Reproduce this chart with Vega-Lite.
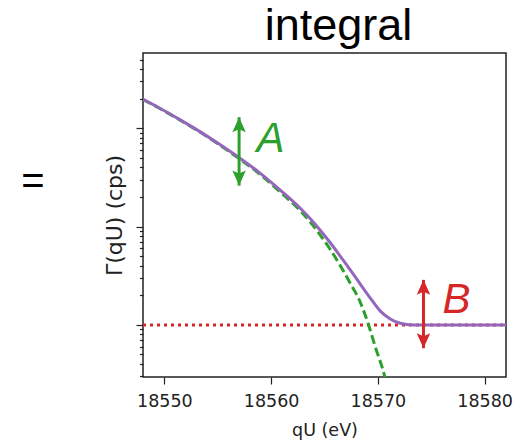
{
  "$schema": "https://vega.github.io/schema/vega-lite/v6.json",
  "autosize": {"type": "none"},
  "width": 363,
  "height": 324,
  "padding": {"left": 143, "top": 53, "right": 13, "bottom": 68},
  "background": "white",
  "config": {
    "view": {"stroke": "#222", "strokeWidth": 1.5},
    "axis": {"domain": false, "grid": false, "tickColor": "#222", "tickWidth": 1.2, "labelFont": "DejaVu Sans", "titleFont": "DejaVu Sans", "titleFontWeight": "normal", "labelColor": "#222", "titleColor": "#222"}
  },
  "title": {"text": "integral", "font": "Liberation Sans", "fontSize": 45, "fontWeight": "normal", "color": "black", "anchor": "middle", "dx": 14, "dy": 46, "offset": 5, "baseline": "bottom"},
  "datasets": {
    "total": [
      {"qU": 18548.0, "v": 196.8},
      {"qU": 18549.62, "v": 159.0},
      {"qU": 18551.49, "v": 121.8},
      {"qU": 18553.37, "v": 91.9},
      {"qU": 18555.24, "v": 67.8},
      {"qU": 18557.02, "v": 50.0},
      {"qU": 18558.99, "v": 34.8},
      {"qU": 18560.86, "v": 23.46},
      {"qU": 18562.73, "v": 15.35},
      {"qU": 18563.67, "v": 12.0},
      {"qU": 18564.6, "v": 9.17},
      {"qU": 18565.54, "v": 6.84},
      {"qU": 18566.47, "v": 5.01},
      {"qU": 18567.41, "v": 3.63},
      {"qU": 18568.35, "v": 2.6},
      {"qU": 18569.29, "v": 1.874},
      {"qU": 18570.23, "v": 1.38},
      {"qU": 18571.16, "v": 1.15},
      {"qU": 18572.1, "v": 1.04},
      {"qU": 18573.32, "v": 1.0},
      {"qU": 18582.0, "v": 1.0}
    ],
    "signal": [
      {"qU": 18548.0, "v": 195.8},
      {"qU": 18549.62, "v": 158.0},
      {"qU": 18551.49, "v": 120.8},
      {"qU": 18553.37, "v": 90.9},
      {"qU": 18555.24, "v": 66.8},
      {"qU": 18557.02, "v": 49.0},
      {"qU": 18558.99, "v": 33.8},
      {"qU": 18560.86, "v": 22.46},
      {"qU": 18562.73, "v": 14.5},
      {"qU": 18563.67, "v": 11.1},
      {"qU": 18564.6, "v": 8.2},
      {"qU": 18565.54, "v": 5.85},
      {"qU": 18566.47, "v": 4.02},
      {"qU": 18567.41, "v": 2.65},
      {"qU": 18568.35, "v": 1.7},
      {"qU": 18569.1, "v": 1.02},
      {"qU": 18569.75, "v": 0.6},
      {"qU": 18570.6, "v": 0.31},
      {"qU": 18571.0, "v": 0.2}
    ],
    "bg": [
      {"qU": 18548.0, "v": 1.0},
      {"qU": 18582.0, "v": 1.0}
    ],
    "arrows": [
      {"label": "A", "qU": 18557.0, "lo": 26.1, "hi": 129.7},
      {"label": "B", "qU": 18574.27, "lo": 0.579, "hi": 2.87}
    ],
    "labels": [
      {"label": "A", "qU": 18559.95, "v": 58.0},
      {"label": "B", "qU": 18577.36, "v": 1.315}
    ],
    "eq": [
      {"qU": 18537.7, "v": 28.2, "t": "="}
    ]
  },
  "layer": [
    {
      "data": {"name": "bg"},
      "mark": {"type": "line", "color": "#d62728", "strokeWidth": 3, "strokeDash": [3, 4], "clip": true},
      "encoding": {
        "x": {"field": "qU", "type": "quantitative", "scale": {"domain": [18548, 18582], "nice": false, "zero": false},
          "axis": {"values": [18550, 18560, 18570, 18580], "format": "d", "tickSize": 7, "labelFontSize": 17.5, "labelPadding": 8, "title": "qU (eV)", "titleFontSize": 17.5, "titlePadding": 12}},
        "y": {"field": "v", "type": "quantitative", "scale": {"type": "log", "domain": [0.295, 583], "nice": false},
          "axis": {"values": [0.3, 0.4, 0.5, 0.6, 0.7, 0.8, 0.9, 1, 2, 3, 4, 5, 6, 7, 8, 9, 10, 20, 30, 40, 50, 60, 70, 80, 90, 100, 200, 300, 400, 500],
            "labels": false,
            "tickSize": {"condition": {"test": "datum.value == 1 || datum.value == 10 || datum.value == 100", "value": 7}, "value": 3.5},
            "title": "Γ(qU) (cps)", "titleFontSize": 22, "titlePadding": 9}}
      }
    },
    {
      "data": {"name": "signal"},
      "mark": {"type": "line", "color": "#2ca02c", "strokeWidth": 3, "strokeDash": [9, 4], "interpolate": "monotone", "clip": true},
      "encoding": {
        "x": {"field": "qU", "type": "quantitative"},
        "y": {"field": "v", "type": "quantitative"}
      }
    },
    {
      "data": {"name": "total"},
      "mark": {"type": "line", "color": "#9467bd", "strokeWidth": 3, "interpolate": "monotone", "clip": true},
      "encoding": {
        "x": {"field": "qU", "type": "quantitative"},
        "y": {"field": "v", "type": "quantitative"}
      }
    },
    {
      "data": {"name": "arrows"},
      "mark": {"type": "rule", "strokeWidth": 3},
      "encoding": {
        "x": {"field": "qU", "type": "quantitative"},
        "y": {"field": "lo", "type": "quantitative"},
        "y2": {"field": "hi"},
        "color": {"field": "label", "type": "nominal", "scale": {"domain": ["A", "B"], "range": ["#2ca02c", "#d62728"]}, "legend": null}
      }
    },
    {
      "data": {"name": "arrows"},
      "mark": {"type": "point", "filled": true, "opacity": 1, "size": 225, "shape": "M0,0 L0.9,2 L0,1.6 L-0.9,2 Z"},
      "encoding": {
        "x": {"field": "qU", "type": "quantitative"},
        "y": {"field": "hi", "type": "quantitative"},
        "color": {"field": "label", "type": "nominal", "legend": null}
      }
    },
    {
      "data": {"name": "arrows"},
      "mark": {"type": "point", "filled": true, "opacity": 1, "size": 225, "shape": "M0,0 L0.9,-2 L0,-1.6 L-0.9,-2 Z"},
      "encoding": {
        "x": {"field": "qU", "type": "quantitative"},
        "y": {"field": "lo", "type": "quantitative"},
        "color": {"field": "label", "type": "nominal", "legend": null}
      }
    },
    {
      "data": {"name": "labels"},
      "mark": {"type": "text", "font": "Liberation Sans", "fontSize": 42, "fontStyle": "italic", "align": "center", "baseline": "alphabetic"},
      "encoding": {
        "x": {"field": "qU", "type": "quantitative"},
        "y": {"field": "v", "type": "quantitative"},
        "text": {"field": "label"},
        "color": {"field": "label", "type": "nominal", "legend": null}
      }
    },
    {
      "data": {"name": "eq"},
      "mark": {"type": "text", "font": "Liberation Sans", "fontSize": 40, "align": "center", "baseline": "middle", "color": "black", "clip": false},
      "encoding": {
        "x": {"field": "qU", "type": "quantitative"},
        "y": {"field": "v", "type": "quantitative"},
        "text": {"field": "t"}
      }
    }
  ]
}
